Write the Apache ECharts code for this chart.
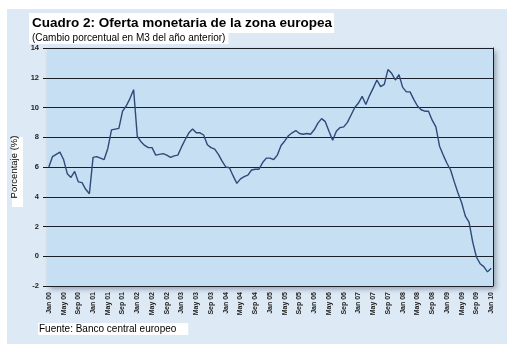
<!DOCTYPE html>
<html><head><meta charset="utf-8">
<script src="https://cdn.jsdelivr.net/npm/echarts@6/dist/echarts.min.js"></script>
<style>html,body{margin:0;padding:0;background:#fff}#c{width:519px;height:355px}</style>
</head><body><div id="c"></div>
<script>
var monthNames = ['Jan','Feb','Mar','Apr','May','Jun','Jul','Aug','Sep','Oct','Nov','Dec'];
var years = ['00','01','02','03','04','05','06','07','08','09','10'];
var yTicks = [-2,0,2,4,6,8,10,12,14];
var m3Growth = [
 6.0,6.7,6.85,7.0,6.5,5.55,5.3,5.7,5.0,4.95,4.5,4.2,
 6.65,6.7,6.6,6.5,7.25,8.5,8.55,8.6,9.75,10.1,10.6,11.2,
 8.05,7.7,7.45,7.3,7.3,6.8,6.85,6.9,6.8,6.65,6.75,6.8,
 7.35,7.85,8.3,8.55,8.3,8.3,8.15,7.5,7.3,7.2,6.85,6.4,
 6.0,5.95,5.4,4.9,5.2,5.35,5.45,5.8,5.85,5.85,6.3,6.6,
 6.6,6.5,6.8,7.45,7.75,8.1,8.3,8.45,8.25,8.2,8.25,8.2,
 8.5,8.95,9.25,9.05,8.4,7.8,8.4,8.65,8.7,9.0,9.5,10.0,
 10.3,10.75,10.2,10.8,11.3,11.85,11.4,11.55,12.55,12.3,11.85,12.2,
 11.35,11.05,11.05,10.55,10.1,9.85,9.75,9.75,9.15,8.7,7.4,6.8,
 6.25,5.8,5.0,4.25,3.6,2.7,2.3,0.95,-0.05,-0.5,-0.7,-1.05,
 -0.8
];
var categories = [];
years.forEach(function(y, yi){
  monthNames.forEach(function(m, mi){
    if (yi < years.length - 1 || mi === 0) categories.push(m + ' ' + y);
  });
});

var chart = echarts.init(document.getElementById('c'));
chart.setOption({
  animation: false,
  backgroundColor: '#ffffff',
  graphic: [
    {type:'rect', shape:{x:7,y:9,width:500,height:335}, style:{fill:'#dde9f5'}, z:-10},
    {type:'rect', shape:{x:12,y:137,width:11,height:70}, style:{fill:'#ffffff'}, z:-5}
  ],
  title: [
    {text:'Cuadro 2: Oferta monetaria de la zona europea', left:29, top:13,
     backgroundColor:'#ffffff', padding:[3,2,3,3],
     textStyle:{fontFamily:'Liberation Sans, Arial', fontWeight:'bold', fontSize:13.5, color:'#000'}},
    {text:'(Cambio porcentual en M3 del año anterior)', left:29, top:32,
     backgroundColor:'#ffffff', padding:[1,3,1,3],
     textStyle:{fontFamily:'Liberation Sans, Arial', fontWeight:'normal', fontSize:10, color:'#000'}},
    {text:'Fuente: Banco central europeo', left:38, top:323,
     backgroundColor:'#ffffff', padding:[1,12,1,1],
     textStyle:{fontFamily:'Liberation Sans, Arial', fontWeight:'normal', fontSize:10, color:'#000'}}
  ],
  grid: {left:47, right:26, top:48, bottom:69, show:true, backgroundColor:'#c6dff3', borderWidth:0,
         shadowColor:'rgba(60,70,90,0.45)', shadowBlur:5, shadowOffsetX:3, shadowOffsetY:3},
  xAxis: {
    type:'category', data:categories, boundaryGap:true,
    axisLine:{show:false}, axisTick:{show:false},
    axisLabel:{interval:3, rotate:90, margin:6, fontSize:7, fontWeight:'bold',
               fontFamily:'Liberation Sans, Arial', color:'#222'}
  },
  yAxis: [
    {type:'value', min:yTicks[0], max:yTicks[yTicks.length-1], interval:2,
     name:'Porcentaje (%)', nameLocation:'middle', nameRotate:90, nameGap:25,
     nameTextStyle:{fontFamily:'Liberation Sans, Arial', fontSize:9.5, color:'#000'},
     axisLine:{show:false},
     axisTick:{show:true, length:4, lineStyle:{color:'#1a1a1a'}},
     axisLabel:{margin:8, fontSize:7.5, fontWeight:'bold', fontFamily:'Liberation Sans, Arial', color:'#222'},
     splitLine:{show:true, lineStyle:{color:'#1a1f2a', width:1}}},
    {type:'value', min:yTicks[0], max:yTicks[yTicks.length-1], interval:2, position:'right',
     axisLine:{show:true, lineStyle:{color:'#1a1a1a', width:1}},
     axisTick:{show:false}, axisLabel:{show:false}, splitLine:{show:false}}
  ],
  series: [{
    type:'line', data:m3Growth, yAxisIndex:0, symbol:'none',
    lineStyle:{color:'#2d4a78', width:1.4}
  }]
});
</script></body></html>
